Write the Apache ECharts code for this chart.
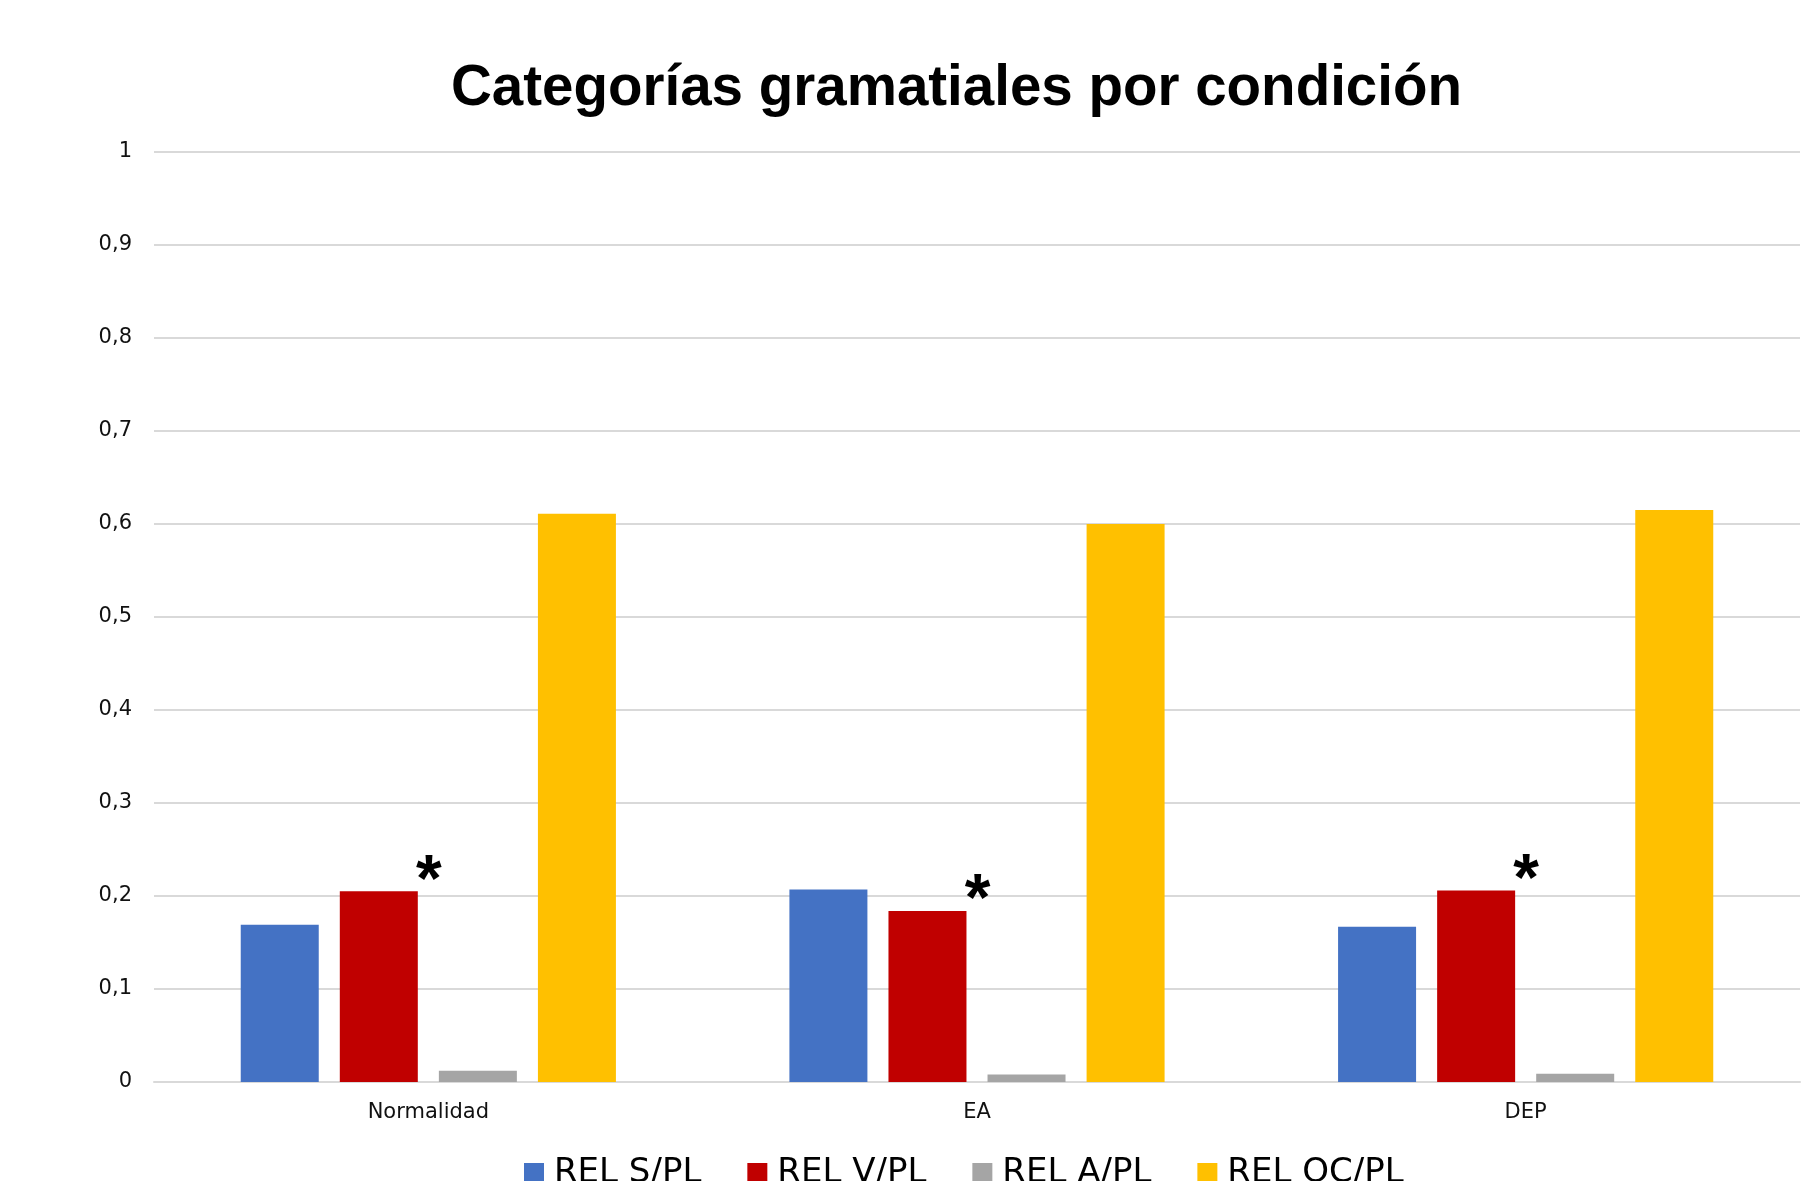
<!DOCTYPE html>
<html>
<head>
<meta charset="utf-8">
<script src="https://cdn.jsdelivr.net/npm/echarts@6/dist/echarts.min.js"></script>
<style>
html,body{margin:0;padding:0;background:#fff;}
#chart{width:1819px;height:1181px;}
</style>
</head>
<body>
<div id="chart"></div>
<script>
const titleText = 'Categorías gramatiales por condición';
const categories = ['Normalidad', 'EA', 'DEP'];
const seriesNames = ['REL S/PL', 'REL V/PL', 'REL A/PL', 'REL OC/PL'];
const relS = [0.169, 0.207, 0.167];
const relV = [0.205, 0.184, 0.206];
const relA = [0.012, 0.008, 0.009];
const relOC = [0.611, 0.600, 0.615];
const significance = ['*', '*', '*'];
const yTickLabels = ['0', '0,1', '0,2', '0,3', '0,4', '0,5', '0,6', '0,7', '0,8', '0,9', '1'];
const colors = ['#4472C4', '#C00000', '#A5A5A5', '#FFC000'];

const chart = echarts.init(document.getElementById('chart'), null, {renderer: 'canvas'});

function barSeries(name, data, color, extra) {
  return Object.assign({
    name: name,
    type: 'bar',
    data: data,
    barWidth: 78,
    barGap: '27%',
    itemStyle: {color: color},
    emphasis: {disabled: true}
  }, extra || {});
}

const option = {
  animation: false,
  backgroundColor: '#ffffff',
  title: {
    text: titleText,
    left: 446,
    top: 56,
    textStyle: {
      fontFamily: 'Liberation Sans',
      fontWeight: 'bold',
      fontSize: 56.5,
      color: '#000000'
    }
  },
  grid: {left: 154, right: 19, top: 152, bottom: 99, containLabel: false},
  legend: {
    data: seriesNames,
    left: 519,
    top: 1151,
    itemWidth: 20,
    itemHeight: 20,
    itemGap: 46,
    icon: 'rect',
    textStyle: {
      fontFamily: 'DejaVu Sans',
      fontSize: 34,
      color: '#000000',
      padding: [0, 0, 0, 5]
    }
  },
  xAxis: {
    type: 'category',
    data: categories,
    axisLine: {show: true, lineStyle: {color: '#d9d9d9', width: 2}},
    axisTick: {show: false},
    axisLabel: {
      margin: 20,
      fontFamily: 'DejaVu Sans',
      fontSize: 21,
      color: '#111111'
    }
  },
  yAxis: {
    type: 'value',
    min: 0,
    max: 1,
    interval: 0.1,
    axisLine: {show: false},
    axisTick: {show: false},
    splitLine: {lineStyle: {color: '#d9d9d9', width: 2}},
    axisLabel: {
      margin: 22,
      fontFamily: 'DejaVu Sans',
      fontSize: 21,
      color: '#111111',
      formatter: function (v, i) { return yTickLabels[i]; }
    }
  },
  series: [
    barSeries(seriesNames[0], relS, colors[0]),
    barSeries(seriesNames[1], relV, colors[1], {
      label: {
        show: true,
        position: 'top',
        distance: 5,
        offset: [50, 29],
        formatter: function (p) { return significance[p.dataIndex]; },
        fontFamily: 'Liberation Sans',
        fontWeight: 'bold',
        fontSize: 66,
        color: '#000000'
      }
    }),
    barSeries(seriesNames[2], relA, colors[2]),
    barSeries(seriesNames[3], relOC, colors[3])
  ]
};
chart.setOption(option);
</script>
</body>
</html>
